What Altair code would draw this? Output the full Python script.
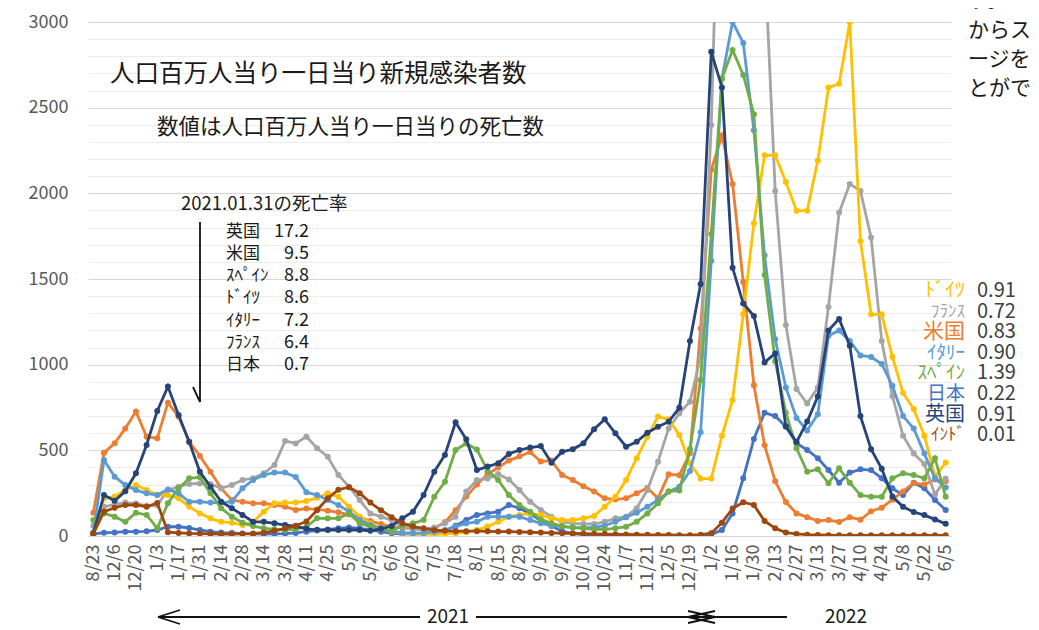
import altair as alt
import pandas as pd

# ---------------- data ----------------
dates = ["8/23","11/29","12/6","12/13","12/20","12/27","1/3","1/10","1/17","1/24","1/31","2/7","2/14","2/21","2/28",
         "3/7","3/14","3/21","3/28","4/4","4/11","4/18","4/25","5/2","5/9","5/16","5/23","5/30","6/6","6/13","6/20",
         "6/27","7/5","7/11","7/18","7/25","8/1","8/8","8/15","8/22","8/29","9/5","9/12","9/19","9/26","10/3","10/10",
         "10/17","10/24","10/31","11/7","11/14","11/21","11/28","12/5","12/12","12/19","12/26","1/2","1/9","1/16",
         "1/23","1/30","2/6","2/13","2/20","2/27","3/6","3/13","3/20","3/27","4/3","4/10","4/17","4/24","5/1","5/8",
         "5/15","5/22","5/29","6/5"]

tick_labels = ["8/23","12/6","12/20","1/3","1/17","1/31","2/14","2/28","3/14","3/28","4/11","4/25","5/9","5/23",
               "6/6","6/20","7/5","7/18","8/1","8/15","8/29","9/12","9/26","10/10","10/24","11/7","11/21","12/5",
               "12/19","1/2","1/16","1/30","2/13","2/27","3/13","3/27","4/10","4/24","5/8","5/22","6/5"]

japan = [12,19,21,25,25,27,35,54,54,47, 35,25,20,18,14,12,11,12,14,18, 25,32,38,45,50,45,36,25,16,12,
         11,13,18,30,60,93,123,132,142,181, 162,130,90,58,28,14,8,5,3,2, 2,1,1,1,1,1,2,3,10,35,
         132,337,566,720,700,638,541,502,454,385, 311,370,389,385,337,278,239,311,278,210, 152]
usa = [136,486,541,628,726,580,570,778,697,551, 467,375,278,210,200,191,191,181,171,152,
       160,155,148,138,125,108,88,70,55,48, 42,40,45,80,150,230,300,360,400,440,
       465,490,435,440,356,327,290,260,220,214, 220,250,280,220,360,355,483,1211,2139,2337,
       2055,1482,880,530,320,198,132,110,88,93, 82,110,95,145,165,212,260,310,300,330, 320]
france = [60,170,185,195,190,175,180,268,288,304, 307,304,278,298,327,337,366,414,555,540,
          580,512,463,356,288,210,132,113,93,55, 40,35,50,74,113,260,327,335,362,330,
          268,200,152,113,83,74,70,70,83,103, 113,162,268,434,628,716,784,1045,2399,4600,
          5300,5000,4300,3400,2014,1232,858,773,867,1337, 1888,2055,2014,1742,1138,817,585,481,420,242, 335]
germany = [15,220,229,268,298,268,239,239,220,171, 132,103,83,78,64,83,142,191,195,195,
           205,222,249,229,171,113,74,45,25,18, 12,10,10,12,15,22,35,55,83,113,
           123,132,123,103,93,93,103,117,171,229, 327,454,580,697,681,590,425,335,335,585,
           794,1294,1826,2222,2222,2066,1899,1899,2191,2618, 2639,3000,1722,1294,1294,1045,835,741,585,346, 429]
italy = [20,444,346,298,268,249,239,272,249,200, 200,195,195,200,278,327,356,370,370,345,
         255,239,210,181,142,93,64,45,28,20, 16,18,25,35,54,74,83,113,113,113,
         113,93,74,60,55,50,48,50,60,83, 109,136,171,210,259,288,380,606,1607,2670,
         3000,2878,2368,1638,1148,867,689,616,710,1169, 1200,1138,1054,1045,1004,877,700,627,481,335, 283]
spain = [93,132,113,83,136,123,45,191,278,337, 343,249,162,113,78,58,45,39,35,40,
         54,103,103,103,132,74,54,40,30,60, 74,93,229,317,502,540,505,380,327,239,
         181,142,97,74,58,49,45,39,39,45, 54,83,132,191,259,266,508,910,1763,2670,
         2837,2691,2461,1523,1020,720,512,375,389,308, 395,311,239,229,229,337,366,356,337,454, 229]
uk = [15,239,206,261,366,531,730,872,706,549, 375,288,200,162,123,83,83,74,64,58,
      42,36,35,35,35,35,30,42,58,103, 142,239,375,473,664,564,385,405,424,479,
      502,516,525,428,492,506,541,623,681,599, 521,550,603,638,667,748,1138,1471,2826,2618,
      1565,1357,1284,1013,1065,640,548,668,814,1200, 1267,1111,700,507,392,230,170,140,122,97, 71]
india = [12,142,165,181,181,171,193,22,18,15, 14,12,11,11,12,14,20,30,45,60,
         85,150,220,270,285,250,195,150,110,75, 55,45,35,30,28,28,28,27,26,26,
         24,22,20,18,16,15,13,12,11,10, 9,8,7,6,6,5,5,8,16,78,
         160,197,181,88,45,20,12,8,6,5, 4,4,4,4,4,4,4,4,4,4, 4]

# drawing order (Excel series order)
countries = ["日本", "米国", "フランス", "ドイツ", "イタリー", "スペイン", "英国", "インド"]
series = {"日本": japan, "米国": usa, "フランス": france, "ドイツ": germany,
          "イタリー": italy, "スペイン": spain, "英国": uk, "インド": india}
colors = {"日本": "#4472C4", "米国": "#ED7D31", "フランス": "#A5A5A5", "ドイツ": "#FFC000",
          "イタリー": "#5B9BD5", "スペイン": "#70AD47", "英国": "#264478", "インド": "#9E480E"}

# death rate on 2021.01.31
rate_names = ["英国", "米国", "ｽﾍﾟｲﾝ", "ﾄﾞｲﾂ", "ｲﾀﾘｰ", "ﾌﾗﾝｽ", "日本"]
rate_values = ["17.2", "9.5", "8.8", "8.6", "7.2", "6.4", "0.7"]

# latest deaths per million per day (right side)
latest_names = ["ﾄﾞｲﾂ", "ﾌﾗﾝｽ", "米国", "ｲﾀﾘｰ", "ｽﾍﾟｲﾝ", "日本", "英国", "ｲﾝﾄﾞ"]
latest_keys = ["ドイツ", "フランス", "米国", "イタリー", "スペイン", "日本", "英国", "インド"]
latest_values = ["0.91", "0.72", "0.83", "0.90", "1.39", "0.22", "0.91", "0.01"]

rows = [{"country": c, "date": d, "value": v}
        for c in countries for d, v in zip(dates, series[c])]
df = pd.DataFrame(rows)

# ---------------- chart ----------------
FONT = "Noto Sans CJK JP"
W, H = 863, 514
OX, OY = 88, 22   # plot origin in page pixels


def P(ix, iy):
    return ix - OX, iy - OY


x_enc = alt.X("date:O",
              scale=alt.Scale(type="point", padding=0.5, domain=dates),
              axis=alt.Axis(values=tick_labels, labelAngle=270, labelFontSize=18,
                            labelColor="#595959", labelFont=FONT, labelPadding=8,
                            ticks=False, domain=False, grid=False, labelOverlap=False),
              title=None)
y_enc = alt.Y("value:Q",
              scale=alt.Scale(domain=[0, 3000], nice=False),
              axis=alt.Axis(values=list(range(0, 3001, 100)), format="d",
                            labelExpr="datum.value % 500 === 0 ? datum.label : ''",
                            gridColor={"condition": {"test": "datum.value % 500 === 0", "value": "#d6d6d6"},
                                       "value": "#ececec"},
                            ticks=False, tickSize=0, domain=False, labelOverlap=False,
                            labelFontSize=18, labelColor="#595959", labelFont=FONT,
                            labelPadding=20),
              title=None)

layers = []
for c in countries:
    base = alt.Chart(df).transform_filter(alt.datum.country == c)
    layers.append(base.mark_line(color=colors[c], strokeWidth=2.8, clip=True)
                  .encode(x=x_enc, y=y_enc))
    layers.append(base.mark_circle(color=colors[c], size=36, opacity=1, clip=True)
                  .encode(x=x_enc, y=y_enc))

blank = alt.Data(values=[{}])


def text(t, ix, iy, size, color="#1a1a1a", align="left"):
    px, py = P(ix, iy)
    return alt.Chart(blank).mark_text(text=t, align=align, baseline="middle", fontSize=size,
                                      color=color, font=FONT).encode(x=alt.value(px), y=alt.value(py))


def seg(ix1, iy1, ix2, iy2, w=1.8):
    x1, y1 = P(ix1, iy1)
    x2, y2 = P(ix2, iy2)
    return alt.Chart(blank).mark_rule(color="#111111", strokeWidth=w).encode(
        x=alt.value(x1), y=alt.value(y1), x2=alt.value(x2), y2=alt.value(y2))


layers.append(text("人口百万人当り一日当り新規感染者数", 110, 75, 24.5))
layers.append(text("数値は人口百万人当り一日当りの死亡数", 157, 128, 21.5))
layers.append(text("2021.01.31の死亡率", 181, 204, 18.5))
for k, (n, v) in enumerate(zip(rate_names, rate_values)):
    y = 231.7 + 22.2 * k
    layers.append(text(n, 226, y, 17))
    layers.append(text(v, 309, y, 18, align="right"))

name_sizes = [20, 17, 21, 19, 19, 19, 20, 17]
for k, (n, key, v) in enumerate(zip(latest_names, latest_keys, latest_values)):
    y = 291 + 20.6 * k
    layers.append(text(n, 965, y, name_sizes[k], color=colors[key], align="right"))
    layers.append(text(v, 977, y, 20, color="#404040"))

# arrow of the annotation
layers.append(seg(200, 222, 200, 402))
layers.append(seg(193, 387, 200, 402))

# year arrows at the bottom
layers.append(text("2021", 448, 617, 19, align="center"))
layers.append(text("2022", 846, 617, 19, align="center"))
for s in [(158, 617, 420, 617), (158, 617, 180, 610), (158, 617, 180, 624),
          (476, 617, 715, 617), (688, 611, 715, 617), (688, 623, 715, 617),
          (688, 617, 787, 617), (715, 611, 688, 617), (715, 623, 688, 617)]:
    layers.append(seg(*s))

# cut-off text from the page at the top right
layers.append(text("す。", 968, 1, 21))
for k, t in enumerate(["からス", "ージを", "とがで"]):
    layers.append(text(t, 968, 31 + 29 * k, 21))

chart = alt.layer(*layers).properties(
    width=W, height=H,
    padding={"left": 80, "top": 14, "right": 80, "bottom": 94},
    autosize=alt.AutoSizeParams(type="none"),
    background="white",
).configure_view(stroke="transparent")

chart.save("out.html", embed_options={"renderer": "svg", "actions": False})
